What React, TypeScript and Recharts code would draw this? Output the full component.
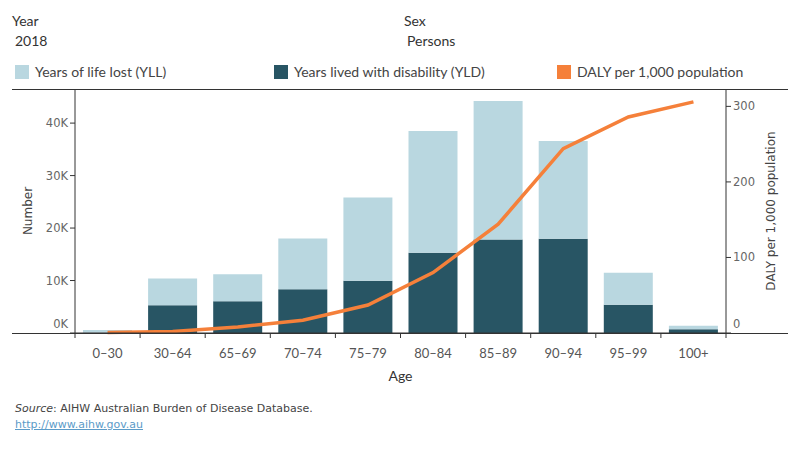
import React from "react";
import {
  ComposedChart,
  Bar,
  Line,
  XAxis,
  YAxis,
} from "recharts";

// age groups on the x axis
const ageGroups = ["0–30", "30–64", "65–69", "70–74", "75–79", "80–84", "85–89", "90–94", "95–99", "100+"];
// Years lived with disability (dark, bottom of stack)
const yldValues = [40, 5300, 6050, 8350, 9950, 15300, 17800, 17950, 5400, 700];
// Years of life lost (light, top of stack)
const yllValues = [520, 5100, 5150, 9650, 15850, 23200, 26400, 18650, 6100, 700];
// DALY per 1,000 population (right axis)
const dalyRates = [0.5, 2, 8, 17, 37, 80, 144, 244, 286, 306];

const leftTicks = [0, 10000, 20000, 30000, 40000];
const rightTicks = [0, 100, 200, 300];

const data = ageGroups.map((age, i) => ({
  age,
  yld: yldValues[i],
  yll: yllValues[i],
  daly: dalyRates[i],
}));

const LIGHT = "#b9d7e0";
const DARK = "#285564";
const ORANGE = "#f5803a";
const AXIS = "#333";
const tableauFont = "Lato, 'Open Sans', sans-serif";
const tickFont = "'DejaVu Sans', Verdana, sans-serif";

const AgeTick = (props: any) => {
  const { x, y, payload, index, width } = props;
  const band = (width || 651) / ageGroups.length;
  return (
    <g>
      <line x1={x - band / 2} x2={x - band / 2} y1={y} y2={y + 5} stroke={AXIS} />
      {index === ageGroups.length - 1 && (
        <line x1={x + band / 2} x2={x + band / 2} y1={y} y2={y + 5} stroke={AXIS} />
      )}
      <text x={x} y={y + 25} textAnchor="middle" fill="#555" fontSize={13} fontFamily={tableauFont}>
        {payload.value}
      </text>
    </g>
  );
};

const LeftTick = (props: any) => {
  const { x, y, payload } = props;
  const shift = payload.value === 0 ? -9 : 0;
  return (
    <text x={x} y={y + shift} dy={4} textAnchor="end" fill="#666" fontSize={11.5} fontFamily={tickFont}>
      {`${payload.value / 1000}K`}
    </text>
  );
};

const RightTick = (props: any) => {
  const { x, y, payload } = props;
  const shift = payload.value === 0 ? -9 : 0;
  return (
    <text x={x} y={y + shift} dy={4} textAnchor="start" fill="#666" fontSize={11.5} fontFamily={tickFont}>
      {payload.value}
    </text>
  );
};

const LegendItem = ({ color, label, left }: { color: string; label: string; left: number }) => (
  <div style={{ position: "absolute", left, top: 63, display: "flex", alignItems: "center" }}>
    <div style={{ width: 14, height: 14, background: color, marginRight: 6 }} />
    <span style={{ fontSize: 14, color: "#444" }}>{label}</span>
  </div>
);

export default function App() {
  return (
    <div
      style={{
        position: "absolute",
        left: 0,
        top: 0,
        width: 800,
        height: 450,
        background: "#fff",
        fontFamily: tableauFont,
        overflow: "hidden",
      }}
    >
      <div style={{ position: "absolute", left: 12, top: 12, fontSize: 14, color: "#333" }}>Year</div>
      <div style={{ position: "absolute", left: 15, top: 32, fontSize: 14, color: "#333" }}>2018</div>
      <div style={{ position: "absolute", left: 404, top: 12, fontSize: 14, color: "#333" }}>Sex</div>
      <div style={{ position: "absolute", left: 407, top: 32, fontSize: 14, color: "#333" }}>Persons</div>

      <LegendItem color={LIGHT} label="Years of life lost (YLL)" left={15} />
      <LegendItem color={DARK} label="Years lived with disability (YLD)" left={274} />
      <LegendItem color={ORANGE} label="DALY per 1,000 population" left={557} />

      <div style={{ position: "absolute", left: 0, top: 0 }}>
        <ComposedChart
          width={800}
          height={450}
          data={data}
          margin={{ top: 89, right: 12, bottom: 67, left: 12 }}
        >
          <XAxis
            dataKey="age"
            height={50}
            interval={0}
            tick={<AgeTick />}
            tickLine={false}
            tickSize={0}
            tickMargin={0}
            axisLine={{ stroke: AXIS }}
            label={{
              value: "Age",
              position: "insideBottom",
              offset: 2,
              fill: "#333",
              fontSize: 14,
              fontFamily: tableauFont,
            }}
          />
          <YAxis
            yAxisId="left"
            orientation="left"
            width={63}
            domain={[0, 46500]}
            ticks={leftTicks}
            tick={<LeftTick />}
            tickSize={5}
            tickLine={{ stroke: AXIS }}
            axisLine={{ stroke: AXIS }}
            label={{
              value: "Number",
              angle: -90,
              position: "insideLeft",
              offset: 16,
              fill: "#444",
              fontSize: 12,
              fontFamily: tickFont,
              style: { textAnchor: "middle" },
            }}
          />
          <YAxis
            yAxisId="right"
            orientation="right"
            width={62}
            domain={[0, 323]}
            ticks={rightTicks}
            tick={<RightTick />}
            tickSize={5}
            tickLine={{ stroke: AXIS }}
            axisLine={{ stroke: AXIS }}
            label={{
              value: "DALY per 1,000 population",
              angle: -90,
              position: "insideRight",
              offset: 17,
              fill: "#444",
              fontSize: 12,
              fontFamily: tickFont,
              style: { textAnchor: "middle" },
            }}
          />
          <Bar yAxisId="left" dataKey="yld" stackId="a" fill={DARK} barSize={49} isAnimationActive={false} />
          <Bar yAxisId="left" dataKey="yll" stackId="a" fill={LIGHT} barSize={49} isAnimationActive={false} />
          <Line
            yAxisId="right"
            dataKey="daly"
            type="linear"
            stroke={ORANGE}
            strokeWidth={3.5}
            dot={false}
            activeDot={false}
            isAnimationActive={false}
          />
        </ComposedChart>
      </div>

      {/* full-width rules, as in the Tableau frame */}
      <div style={{ position: "absolute", left: 12, top: 89, width: 776, height: 1, background: AXIS }} />
      <div style={{ position: "absolute", left: 12, top: 333, width: 776, height: 1, background: AXIS }} />

      <div
        style={{
          position: "absolute",
          left: 15,
          top: 401,
          fontSize: 11,
          color: "#444",
          fontFamily: "'DejaVu Sans', Verdana, sans-serif",
          lineHeight: "16px",
        }}
      >
        <div>
          <i>Source</i>: AIHW Australian Burden of Disease Database.
        </div>
        <div style={{ color: "#5b9bc8", textDecoration: "underline" }}>http://www.aihw.gov.au</div>
      </div>
    </div>
  );
}
